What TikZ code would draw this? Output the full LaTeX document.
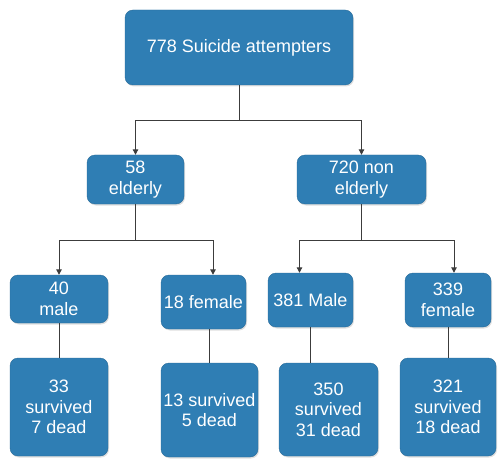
\documentclass[tikz,border=0pt]{standalone}
\usepackage{fontspec}
\setmainfont{Liberation Sans}
\usetikzlibrary{arrows.meta,shadows}
\definecolor{boxblue}{RGB}{47,126,180}
\definecolor{linegray}{RGB}{60,60,60}
\tikzset{
  box/.style={draw=boxblue!85!black, line width=0.4pt, fill=boxblue, rounded corners=8pt,
    text=white, align=center, inner sep=0pt,
    font=\fontsize{18}{20.5}\selectfont,
    drop shadow={opacity=0.25, shadow xshift=1pt, shadow yshift=-1.5pt}},
  conn/.style={draw=linegray, line width=1pt},
  arr/.style={conn, -{Triangle[length=5.5pt,width=5.5pt]}}
}
\begin{document}
\begin{tikzpicture}[x=1pt,y=-1pt]
\useasboundingbox (0,0) rectangle (500,465);
% boxes
\node[box, minimum width=228pt, minimum height=75pt] (top) at (239,47.5) {778 Suicide attempters};
\node[box, minimum width=97pt, minimum height=49pt] (e58) at (135.5,179.5) {58\\elderly};
\node[box, minimum width=129pt, minimum height=49pt] (e720) at (361.5,179.5) {720 non\\elderly};
\node[box, minimum width=98pt, minimum height=48pt] (m40) at (59,299) {40\\male};
\node[box, minimum width=85pt, minimum height=54pt] (f18) at (203.5,302) {18 female};
\node[box, minimum width=85pt, minimum height=54pt] (m381) at (310.5,300) {381 Male};
\node[box, minimum width=86pt, minimum height=54pt] (f339) at (448,300) {339\\female};
\node[box, minimum width=98pt, minimum height=98pt] (s33) at (59,407) {33\\survived\\7 dead};
\node[box, minimum width=97pt, minimum height=94pt] (s13) at (209.5,410) {13 survived\\5 dead};
\node[box, minimum width=99pt, minimum height=93pt] (s350) at (328.5,409.5) {350\\survived\\31 dead};
\node[box, minimum width=96pt, minimum height=98pt] (s321) at (448,407) {321\\survived\\18 dead};
% junctions
\coordinate (j1) at (239,121);
\coordinate (j2) at (135.5,240);
\coordinate (j3) at (361.5,240);
% connectors
\draw[conn] (top.south) -- (j1);
\draw[arr] (j1) -| (e58.north);
\draw[arr] (j1) -| (e720.north);
\draw[conn] (e58.south) -- (j2);
\draw[arr] (j2) -| (m40.north);
\draw[arr] (j2) -| ([xshift=9.5pt]f18.north);
\draw[conn] (e720.south) -- (j3);
\draw[arr] (j3) -| ([xshift=-11pt]m381.north);
\draw[arr] (j3) -| ([xshift=6pt]f339.north);
\draw[conn] (m40.south) -- (s33.north);
\draw[conn] (s13.north |- f18.south) -- (s13.north);
\draw[conn] (m381.south) -- (m381.south |- s350.north);
\draw[conn] (f339.south) -- (s321.north);
\end{tikzpicture}
\end{document}
